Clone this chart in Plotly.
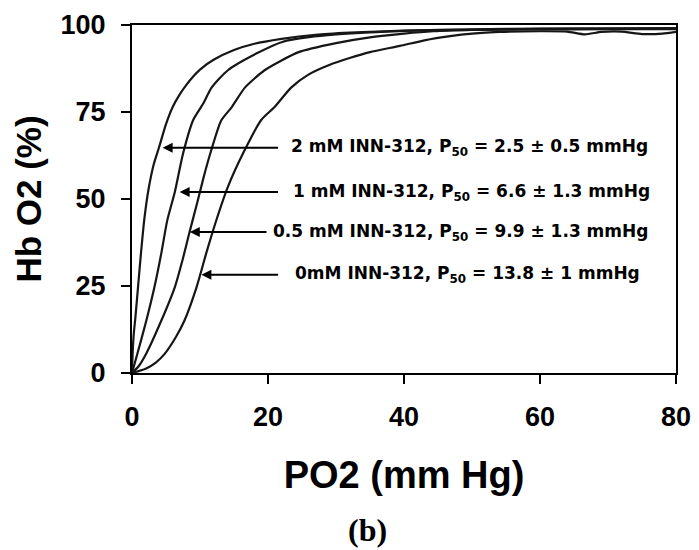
import plotly.graph_objects as go

# ---- data ----
x_2mM = [0, 0.1, 0.25, 0.5, 0.9, 1.3, 1.8, 2.45, 3.2, 4.0, 5.0, 6.0, 7.0, 8.0, 9.0, 10, 12, 15, 18, 22, 27, 32, 40, 50, 60, 70, 80]
y_2mM = [0, 6, 11, 16, 25, 34, 44, 53, 60, 65, 71.5, 76.5, 80, 82.8, 85.2, 87.2, 90, 92.8, 94.6, 96, 97.2, 97.8, 98.4, 98.6, 98.7, 98.8, 98.8]

x_1mM = [0, 0.8, 2.1, 3.3, 4.3, 5.2, 6.3, 7.5, 9.0, 10.5, 11.7, 14.1, 18.5, 22.2, 26, 30, 35, 45, 55, 65, 80]
y_1mM = [0, 5.6, 15, 24.7, 34.3, 44, 52, 63, 72.7, 77.5, 82, 87, 92, 95.2, 96.5, 97.3, 97.9, 98.6, 98.9, 99.0, 99.1]

x_05mM = [0, 1, 2.1, 4.3, 6.3, 7.5, 8.4, 9.6, 10.5, 11.5, 13.1, 14.7, 16.6, 19.5, 24.5, 30, 34.5, 40, 44.3, 50, 60, 70, 80]
y_05mM = [0, 2, 5.6, 15, 24.7, 33, 40, 49, 56, 63, 72.5, 76.5, 82, 87, 92.2, 94.8, 96.3, 97.5, 98.2, 98.6, 98.9, 99.0, 99.0]

x_0mM = [0, 2, 3.5, 4.8, 6.5, 7.7, 9.5, 10.9, 12.4, 14.1, 16.3, 19, 21, 23.4, 26, 29, 32, 35, 39.4, 43, 46.8, 50, 54, 60, 64, 66.6, 69, 72, 75, 78, 80]
y_0mM = [0, 1.2, 3, 5.5, 10.5, 15, 24.7, 34.3, 43.9, 53.5, 63, 72.7, 76.5, 82, 85.8, 88.5, 90.5, 92.2, 94, 95.6, 96.8, 97.5, 98, 98.2, 98.1, 97.3, 98.0, 98.1, 97.4, 97.5, 98.0]

series_names = ["2 mM", "1 mM", "0.5 mM", "0 mM"]
series_x = [x_2mM, x_1mM, x_05mM, x_0mM]
series_y = [y_2mM, y_1mM, y_05mM, y_0mM]

labels = [
    "2 mM INN-312, P<sub>50</sub> = 2.5 ± 0.5 mmHg",
    "1 mM INN-312, P<sub>50</sub> = 6.6 ± 1.3 mmHg",
    "0.5 mM INN-312, P<sub>50</sub> = 9.9 ± 1.3 mmHg",
    "0mM INN-312, P<sub>50</sub> = 13.8 ± 1 mmHg",
]

x_ticks = [0, 20, 40, 60, 80]
y_ticks = [0, 25, 50, 75, 100]

# annotation geometry (data coordinates)
label_y = [64.7, 52.0, 40.5, 28.2]
arrow_tip_x = [4.5, 7.0, 8.5, 10.2]
arrow_tail_x = [21.7, 21.7, 20.0, 21.7]
label_center_x = [49.6, 49.9, 48.3, 49.3]

fig = go.Figure()
for name, xs, ys in zip(series_names, series_x, series_y):
    fig.add_trace(go.Scatter(
        x=xs, y=ys, mode="lines", name=name, showlegend=False,
        line=dict(color="#161616", width=2.2, shape="spline", smoothing=0.6),
        cliponaxis=True,
    ))

annotations = []
for ty, tip, tail, cx, txt in zip(label_y, arrow_tip_x, arrow_tail_x, label_center_x, labels):
    annotations.append(dict(
        x=tip, y=ty, ax=tail, ay=ty, xref="x", yref="y", axref="x", ayref="y",
        text="", showarrow=True, arrowhead=2, arrowsize=1, arrowwidth=2, arrowcolor="black",
    ))
    annotations.append(dict(
        x=cx, y=ty, xref="x", yref="y", text=txt, showarrow=False,
        xanchor="center", yanchor="middle",
        font=dict(family="DejaVu Sans", size=17, color="black", weight="bold"),
    ))

annotations.append(dict(
    x=0.432, y=-0.45, xref="paper", yref="paper", text="(b)", showarrow=False,
    xanchor="center", yanchor="middle",
    font=dict(family="Liberation Serif, Times New Roman, serif", size=32, color="black", weight="bold"),
))

axis_common = dict(
    showgrid=False, zeroline=False, showline=True, linecolor="black", linewidth=2,
    mirror=True, ticks="outside", ticklen=9, tickwidth=2, tickcolor="black",
    ticklabelstandoff=10,
    tickfont=dict(family="Liberation Sans, Arial, sans-serif", size=27, color="black", weight="bold"),
)

fig.update_layout(
    width=699, height=550,
    margin=dict(l=132, r=23, t=25, b=177, autoexpand=False),
    plot_bgcolor="white", paper_bgcolor="white",
    annotations=annotations,
    xaxis=dict(
        range=[0, 80], tickvals=x_ticks, ticktext=[str(v) for v in x_ticks],
        title=dict(text="PO2 (mm Hg)", standoff=30,
                   font=dict(family="Liberation Sans, Arial, sans-serif", size=38, color="black", weight="bold")),
        **axis_common,
    ),
    yaxis=dict(
        range=[0, 100], tickvals=y_ticks, ticktext=[str(v) for v in y_ticks],
        title=dict(text="Hb O2 (%)", standoff=8,
                   font=dict(family="Liberation Sans, Arial, sans-serif", size=35, color="black", weight="bold")),
        **axis_common,
    ),
)

fig.write_html(
    "out.html",
    config={"displayModeBar": False},
    post_script="document.body.style.margin='0px';document.body.style.padding='0px';",
)
